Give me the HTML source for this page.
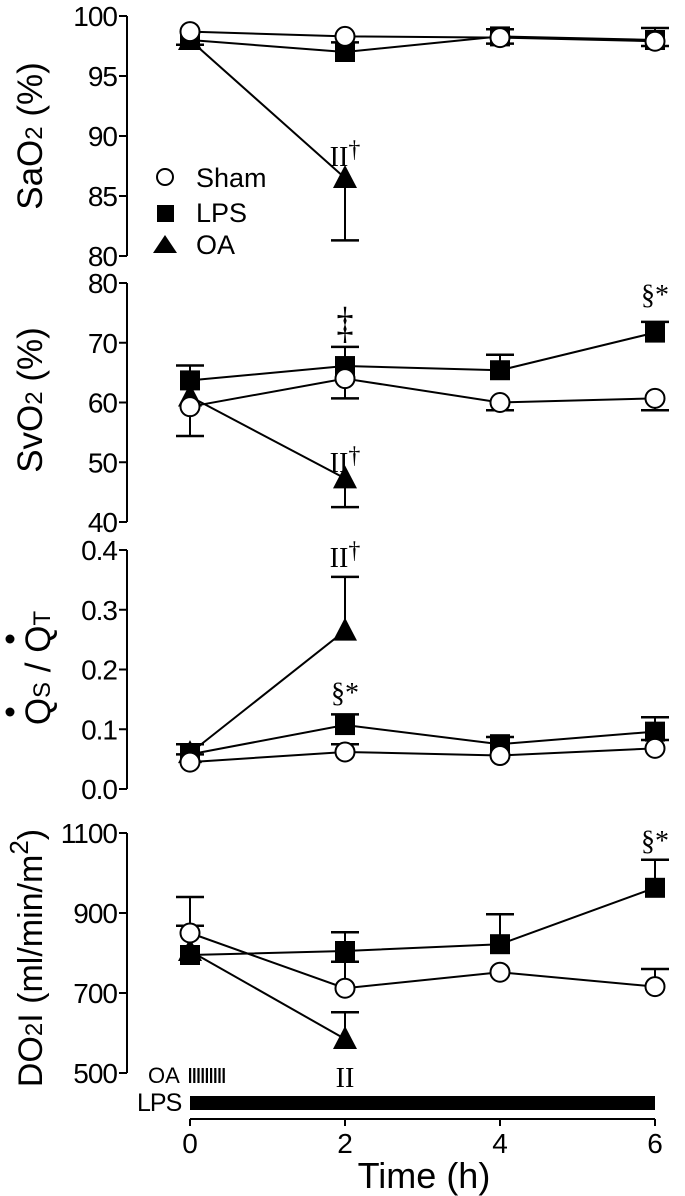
<!DOCTYPE html>
<html><head><meta charset="utf-8"><style>
html,body{margin:0;padding:0;background:#fff;}
svg{display:block;font-family:"Liberation Sans",sans-serif;}
.ser{font-family:"Liberation Serif",serif;}
</style></head><body>
<svg id="chart" width="685" height="1196" viewBox="0 0 685 1196"></svg>
<script>
const times=[0,2,4,6];
// Panel 1 SaO2
const sao2Sham=[98.7,98.3,98.2,97.9];
const sao2Lps=[98.0,97.0,98.3,98.0];
const sao2Oa=[98.0,86.5];
const sao2Ticks=[80,85,90,95,100];
// Panel 2 SvO2
const svo2Sham=[59.3,64.0,60.0,60.7];
const svo2Lps=[63.7,66.1,65.4,71.7];
const svo2Oa=[61.0,47.3];
const svo2Ticks=[40,50,60,70,80];
// Panel 3 Qs/Qt
const qsSham=[0.045,0.062,0.056,0.068];
const qsLps=[0.058,0.107,0.075,0.096];
const qsOa=[0.060,0.265];
const qsTicks=[0.0,0.1,0.2,0.3,0.4];
// Panel 4 DO2I
const doSham=[850,712,752,716];
const doLps=[795,805,822,963];
const doOa=[805,585];
const doTicks=[500,700,900,1100];
// error bar ends [series, timeIndex, endValue]
const sao2Err=[["oa",1,81.3],["lps",1,97.8],["lps",0,97.6],["sham",2,97.7],["lps",2,98.9],["lps",3,99.0],["sham",3,97.5]];
const svo2Err=[["lps",0,66.2],["lps",1,69.3],["lps",2,68.0],["lps",3,73.5],["sham",0,54.4],["sham",1,60.7],["sham",2,58.7],["sham",3,58.7],["oa",1,42.5]];
const qsErr=[["oa",1,0.355],["lps",1,0.125],["lps",3,0.12],["lps",2,0.087],["lps",0,0.075],["sham",1,0.075],["sham",0,0.058],["lps",3,0.082]];
const doErr=[["sham",0,940],["lps",0,868],["lps",1,852],["sham",1,778],["lps",2,897],["lps",3,1033],["sham",3,760],["oa",1,652]];

const svg=document.getElementById('chart');
const NS='http://www.w3.org/2000/svg';
function el(tag,attrs,name,parent){const e=document.createElementNS(NS,tag);for(const k in attrs)e.setAttribute(k,attrs[k]);


(parent||svg).appendChild(e);return e;}
const xs=t=>190+(t/6)*465;
const AX=127;

function panel(key,ticks,yTop,yBot,sham,lps,oa,err,tickFmt){
  const g=el('g',{},key+'-panel');
  const lo=ticks[0],hi=ticks[ticks.length-1];
  const ys=v=>yBot-(v-lo)/(hi-lo)*(yBot-yTop);
  el('line',{x1:AX,y1:yTop,x2:AX,y2:yBot,stroke:'#000','stroke-width':2},key+'-y-axis',g);
  ticks.forEach(t=>{
    el('line',{x1:AX-8,y1:ys(t),x2:AX,y2:ys(t),stroke:'#000','stroke-width':2},key+'-y-tick',g);
    const tx=el('text',{x:AX-10,y:ys(t)+10,'text-anchor':'end','font-size':28,'letter-spacing':-1},key+'-y-tick-label',g);
    tx.textContent=tickFmt(t);
  });
  const sers={sham:sham,lps:lps,oa:oa};
  err.forEach(e=>{
    const v=sers[e[0]][e[1]];const x=xs(times[e[1]]);
    el('line',{x1:x,y1:ys(v),x2:x,y2:ys(e[2]),stroke:'#000','stroke-width':2},key+'-error-bar',g);
    el('line',{x1:x-14,y1:ys(e[2]),x2:x+14,y2:ys(e[2]),stroke:'#000','stroke-width':2.5},key+'-error-cap',g);
  });
  [['oa',oa],['lps',lps],['sham',sham]].forEach(([n,arr])=>{
    el('polyline',{points:arr.map((v,i)=>xs(times[i])+','+ys(v)).join(' '),fill:'none',stroke:'#000','stroke-width':2},key+'-'+n+'-line',g);
  });
  oa.forEach((v,i)=>{const x=xs(times[i]),y=ys(v);
    el('polygon',{points:`${x},${y-13} ${x-12},${y+10} ${x+12},${y+10}`,fill:'#000'},key+'-oa-point',g);});
  lps.forEach((v,i)=>{const x=xs(times[i]),y=ys(v);
    el('rect',{x:x-10,y:y-10,width:20,height:20,fill:'#000'},key+'-lps-point',g);});
  sham.forEach((v,i)=>{const x=xs(times[i]),y=ys(v);
    el('circle',{cx:x,cy:y,r:9.5,fill:'#fff',stroke:'#000','stroke-width':2},key+'-sham-point',g);});
  return ys;
}
const f0=t=>String(t), f1=t=>t.toFixed(1);
const y1=panel('sao2',sao2Ticks,16,256,sao2Sham,sao2Lps,sao2Oa,sao2Err,f0);
const y2=panel('svo2',svo2Ticks,283,522,svo2Sham,svo2Lps,svo2Oa,svo2Err,f0);
const y3=panel('qs-qt',qsTicks,550,789,qsSham,qsLps,qsOa,qsErr,f1);
const y4=panel('do2i',doTicks,833,1073,doSham,doLps,doOa,doErr,f0);

function txt(x,y,s,size,name,cls,extra){const t=el('text',Object.assign({x:x,y:y,'font-size':size,'text-anchor':'middle'},extra||{}),name);if(cls)t.setAttribute('class',cls);t.innerHTML=s;return t;}
// y-axis titles
txt(42,136,'SaO<tspan font-size="24">2</tspan> (%)',35,'sao2-axis-title',null,{transform:'rotate(-90 42 136)'});
txt(42,400,'SvO<tspan font-size="24">2</tspan> (%)',35,'svo2-axis-title',null,{transform:'rotate(-90 42 400)'});
txt(50,668,'Q<tspan font-size="24">S</tspan> / Q<tspan font-size="24">T</tspan>',35,'qs-qt-axis-title',null,{transform:'rotate(-90 50 668)'});
el('circle',{cx:10,cy:712,r:4.5,fill:'#000'},'qs-dot');
el('circle',{cx:10,cy:639,r:4.5,fill:'#000'},'qt-dot');
txt(42,958,'DO<tspan font-size="24">2</tspan>I (ml/min/m<tspan font-size="26" dy="-14">2</tspan><tspan dy="14">)</tspan>',34,'do2i-axis-title',null,{transform:'rotate(-90 42 958)'});

// annotations
txt(345,166,'II<tspan font-size="24" dy="-9">†</tspan>',28,'sao2-oa-sig','ser');
txt(345,336,'‡',34,'svo2-lps-sig','ser',{transform:'translate(345 330) scale(1 1.3) translate(-345 -330)'});
txt(655,304,'§*',28,'svo2-lps6-sig','ser');
txt(345,472,'II<tspan font-size="24" dy="-9">†</tspan>',28,'svo2-oa-sig','ser');
txt(345,567,'II<tspan font-size="24" dy="-9">†</tspan>',28,'qs-oa-sig','ser');
txt(345,702,'§*',28,'qs-lps-sig','ser');
txt(655,850,'§*',28,'do2i-lps-sig','ser');
txt(345,1087,'II',28,'do2i-oa-sig','ser');

// legend
const lg=el('g',{},'legend');
el('circle',{cx:165,cy:177,r:8,fill:'#fff',stroke:'#000','stroke-width':2},'legend-sham-marker',lg);
el('rect',{x:157,y:205,width:17,height:17,fill:'#000'},'legend-lps-marker',lg);
el('polygon',{points:'165,235 153,253 177,253',fill:'#000'},'legend-oa-marker',lg);
[['Sham',187],['LPS',222],['OA',254]].forEach(([s,y])=>{const t=el('text',{x:196,y:y,'font-size':27},'legend-entry',lg);t.textContent=s;});

// OA / LPS infusion
const oaT=el('text',{x:148,y:1083,'font-size':22},'oa-infusion-label');oaT.textContent='OA';
for(let i=0;i<9;i++)el('rect',{x:189+i*4.2,y:1068,width:2.2,height:15,fill:'#000'},'oa-infusion-tick');
const lpsT=el('text',{x:137,y:1111,'font-size':25,'letter-spacing':-1},'lps-infusion-label');lpsT.textContent='LPS';
el('rect',{x:190,y:1096,width:465,height:14,fill:'#000'},'lps-infusion-bar');

// x axis
el('line',{x1:190,y1:1119,x2:655,y2:1119,stroke:'#000','stroke-width':2},'x-axis');
times.forEach(t=>{el('line',{x1:xs(t),y1:1119,x2:xs(t),y2:1126,stroke:'#000','stroke-width':2},'x-tick');
  const tt=el('text',{x:xs(t),y:1153,'font-size':28,'text-anchor':'middle'},'x-tick-label');tt.textContent=t;});
txt(424,1188,'Time (h)',36,'x-axis-title');
</script>
</body></html>
